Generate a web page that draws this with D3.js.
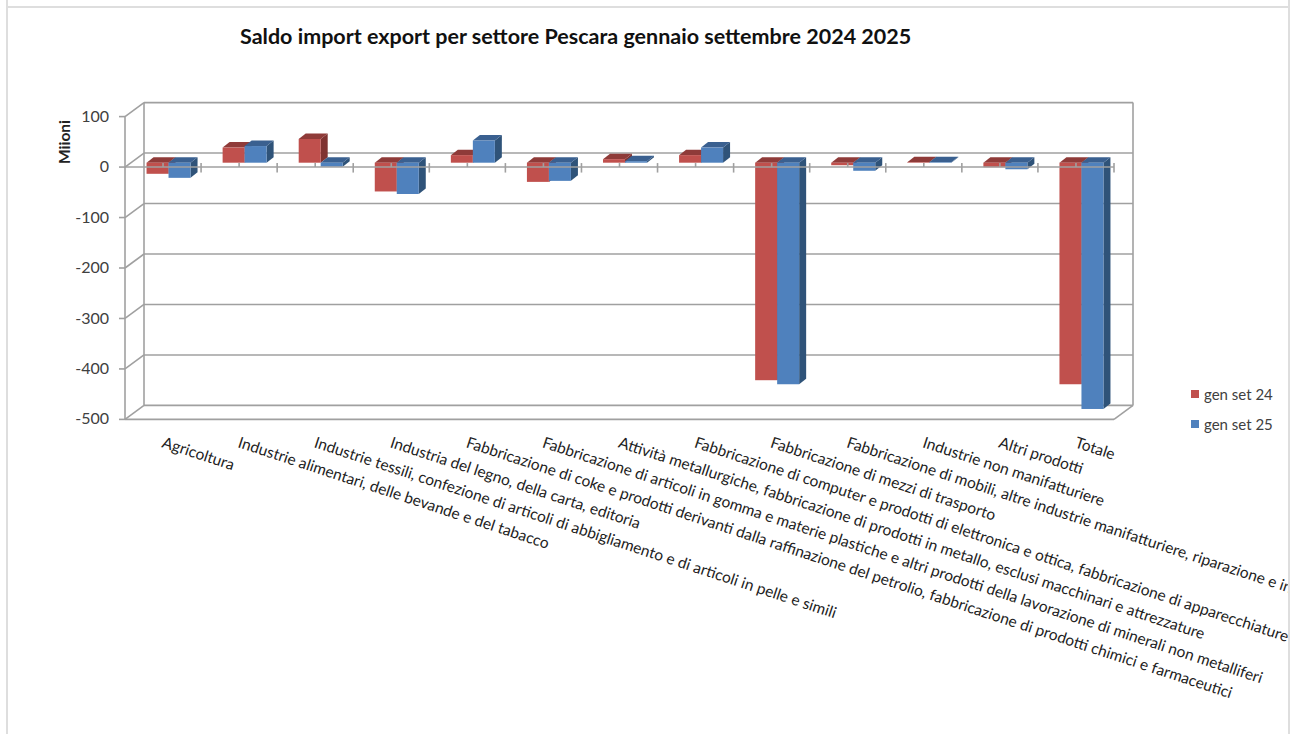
<!DOCTYPE html>
<html>
<head>
<meta charset="utf-8">
<script src="https://cdn.jsdelivr.net/npm/d3@7/dist/d3.min.js"></script>
<style>
  html, body { margin: 0; padding: 0; background: #fff; overflow: hidden; }
  text { font-family: Lato, "Open Sans", sans-serif; }
</style>
</head>
<body>
<div id="chart"></div>
<script>
  var categories = [
    "Agricoltura",
    "Industrie alimentari, delle bevande e del tabacco",
    "Industrie tessili, confezione di articoli di abbigliamento e di articoli in pelle e simili",
    "Industria del legno, della carta, editoria",
    "Fabbricazione di coke e prodotti derivanti dalla raffinazione del petrolio, fabbricazione di prodotti chimici e farmaceutici",
    "Fabbricazione di articoli in gomma e materie plastiche e altri prodotti della lavorazione di minerali non metalliferi",
    "Attività metallurgiche, fabbricazione di prodotti in metallo, esclusi macchinari e attrezzature",
    "Fabbricazione di computer e prodotti di elettronica e ottica, fabbricazione di apparecchiature elettriche",
    "Fabbricazione di mezzi di trasporto",
    "Fabbricazione di mobili, altre industrie manifatturiere, riparazione e installazione di macchine",
    "Industrie non manifatturiere",
    "Altri prodotti",
    "Totale"
  ];
  var seriesNames = ["gen set 24", "gen set 25"];
  var values24 = [-22, 30, 47, -57, 15, -38, 7, 15, -431, -5, 1, -9, -439];
  var values25 = [-30, 33, -8, -62, 44, -36, 3, 30, -439, -16, 1, -13, -488];
  var yTicks = [100, 0, -100, -200, -300, -400, -500];

  var width = 1297, height = 734;
  var frontColors = ["#c0504d", "#4f81bd"],
      topColors = ["#8f3b39", "#3a6090"],
      sideColors = ["#7f3331", "#2f5379"];
  var gridColor = "#a0a0a0", textColor = "#404040";

  // depth of the box walls and of the bars
  var wallDx = 19, wallDy = -14, barDx = 7, barDy = -5.5;

  var svg = d3.select("#chart").append("svg")
    .attr("width", width)
    .attr("height", height);

  // frame of the sheet behind the chart
  svg.append("rect").attr("x", 6).attr("y", 0).attr("width", 2).attr("height", height).attr("fill", "#dedede");
  svg.append("rect").attr("x", 1288).attr("y", 0).attr("width", 2).attr("height", height).attr("fill", "#dedede");
  svg.append("rect").attr("x", 6).attr("y", 6).attr("width", 1284).attr("height", 2).attr("fill", "#dedede");

  var xScale = d3.scaleBand().domain(categories).range([125, 1114]);
  var yScale = d3.scaleLinear().domain([-500, 100]).range([419.4, 116.6]);
  var x0 = xScale.range()[0], x1 = xScale.range()[1];
  var y0 = yScale(-500), y1 = yScale(100);

  function wallLine(x1_, y1_, x2_, y2_, w) {
    svg.append("line")
      .attr("x1", x1_).attr("y1", y1_).attr("x2", x2_).attr("y2", y2_)
      .attr("stroke", gridColor).attr("stroke-width", w || 1.6);
  }

  // back wall, side wall and floor
  yTicks.forEach(function (v) {
    var y = yScale(v);
    wallLine(x0 + wallDx, y + wallDy, x1 + wallDx, y + wallDy);
    wallLine(x0, y, x0 + wallDx, y + wallDy);
    wallLine(x0 - 6, y, x0, y);
  });
  wallLine(x0, y1, x0, y0);
  wallLine(x0 + wallDx, y1 + wallDy, x0 + wallDx, y0 + wallDy);
  wallLine(x1 + wallDx, y1 + wallDy, x1 + wallDx, y0 + wallDy);
  wallLine(x0, y0, x1, y0);
  wallLine(x1, y0, x1 + wallDx, y0 + wallDy);

  // bars sit halfway into the box, so their base is shifted from the axis
  var barOffsetX = 5.5, baseShift = yScale(0) - 162.7;
  var barWidth = 22;
  var barsG = svg.append("g");

  function drawBar(cat, value, s) {
    var left = xScale(cat) + xScale.bandwidth() / 2 + barOffsetX - barWidth + s * barWidth;
    var right = left + barWidth;
    var a = yScale(Math.max(value, 0)) - baseShift,
        b = yScale(Math.min(value, 0)) - baseShift;
    var g = barsG.append("g").attr("class", "bar");
    g.append("polygon")
      .attr("points", [[right, a], [right + barDx, a + barDy], [right + barDx, b + barDy], [right, b]].join(" "))
      .attr("fill", sideColors[s]);
    g.append("polygon")
      .attr("points", [[left, a], [left + barDx, a + barDy], [right + barDx, a + barDy], [right, a]].join(" "))
      .attr("fill", topColors[s]);
    g.append("rect")
      .attr("x", left).attr("y", a)
      .attr("width", barWidth).attr("height", b - a)
      .attr("fill", frontColors[s]);
  }

  // red series first, blue drawn over it
  categories.forEach(function (c, i) { drawBar(c, values24[i], 0); });
  categories.forEach(function (c, i) { drawBar(c, values25[i], 1); });

  // category axis on the zero line
  var zeroY = yScale(0);
  wallLine(x0, zeroY, x1, zeroY);
  categories.forEach(function (c, i) {
    var xs = xScale(c);
    wallLine(xs + xScale.bandwidth(), zeroY - 4, xs + xScale.bandwidth(), zeroY + 5.5);
    wallLine(xs + xScale.bandwidth() / 2, zeroY - 4, xs + xScale.bandwidth() / 2, zeroY);
  });

  // y labels
  svg.append("g").selectAll("text")
    .data(yTicks).enter().append("text")
    .attr("x", 109)
    .attr("y", function (d) { return yScale(d) + 1; })
    .attr("text-anchor", "end")
    .attr("dominant-baseline", "middle")
    .attr("font-size", 16)
    .attr("fill", textColor)
    .text(function (d) { return d; });

  svg.append("text")
    .attr("transform", "translate(70,142) rotate(-90)")
    .attr("text-anchor", "middle")
    .attr("font-size", 15.5)
    .attr("font-weight", 700)
    .attr("fill", "#222")
    .text("Miioni");

  // title
  svg.append("text")
    .attr("x", 240).attr("y", 44)
    .attr("font-size", 21.5)
    .attr("font-weight", 700)
    .attr("fill", "#111")
    .text("Saldo import export per settore Pescara gennaio settembre 2024 2025");

  // slanted category labels, cut at the edge of the sheet
  svg.append("clipPath").attr("id", "sheet")
    .append("rect").attr("x", 0).attr("y", 0).attr("width", 1288).attr("height", height);

  svg.append("g").attr("clip-path", "url(#sheet)")
    .selectAll("text")
    .data(categories).enter().append("text")
    .attr("transform", function (d) {
      return "translate(" + (xScale(d) + 36) + ",447) rotate(18.2)";
    })
    .attr("font-size", 15.5)
    .attr("fill", "#222")
    .text(function (d) { return d; });

  // legend
  var legend = svg.append("g").selectAll("g")
    .data(seriesNames).enter().append("g")
    .attr("transform", function (d, i) { return "translate(1191," + (394 + i * 30) + ")"; });
  legend.append("rect")
    .attr("x", 0).attr("y", -4).attr("width", 8).attr("height", 8)
    .attr("fill", function (d, i) { return frontColors[i]; });
  legend.append("text")
    .attr("x", 13).attr("y", 6)
    .attr("font-size", 15)
    .attr("fill", textColor)
    .text(function (d) { return d; });
</script>
</body>
</html>
